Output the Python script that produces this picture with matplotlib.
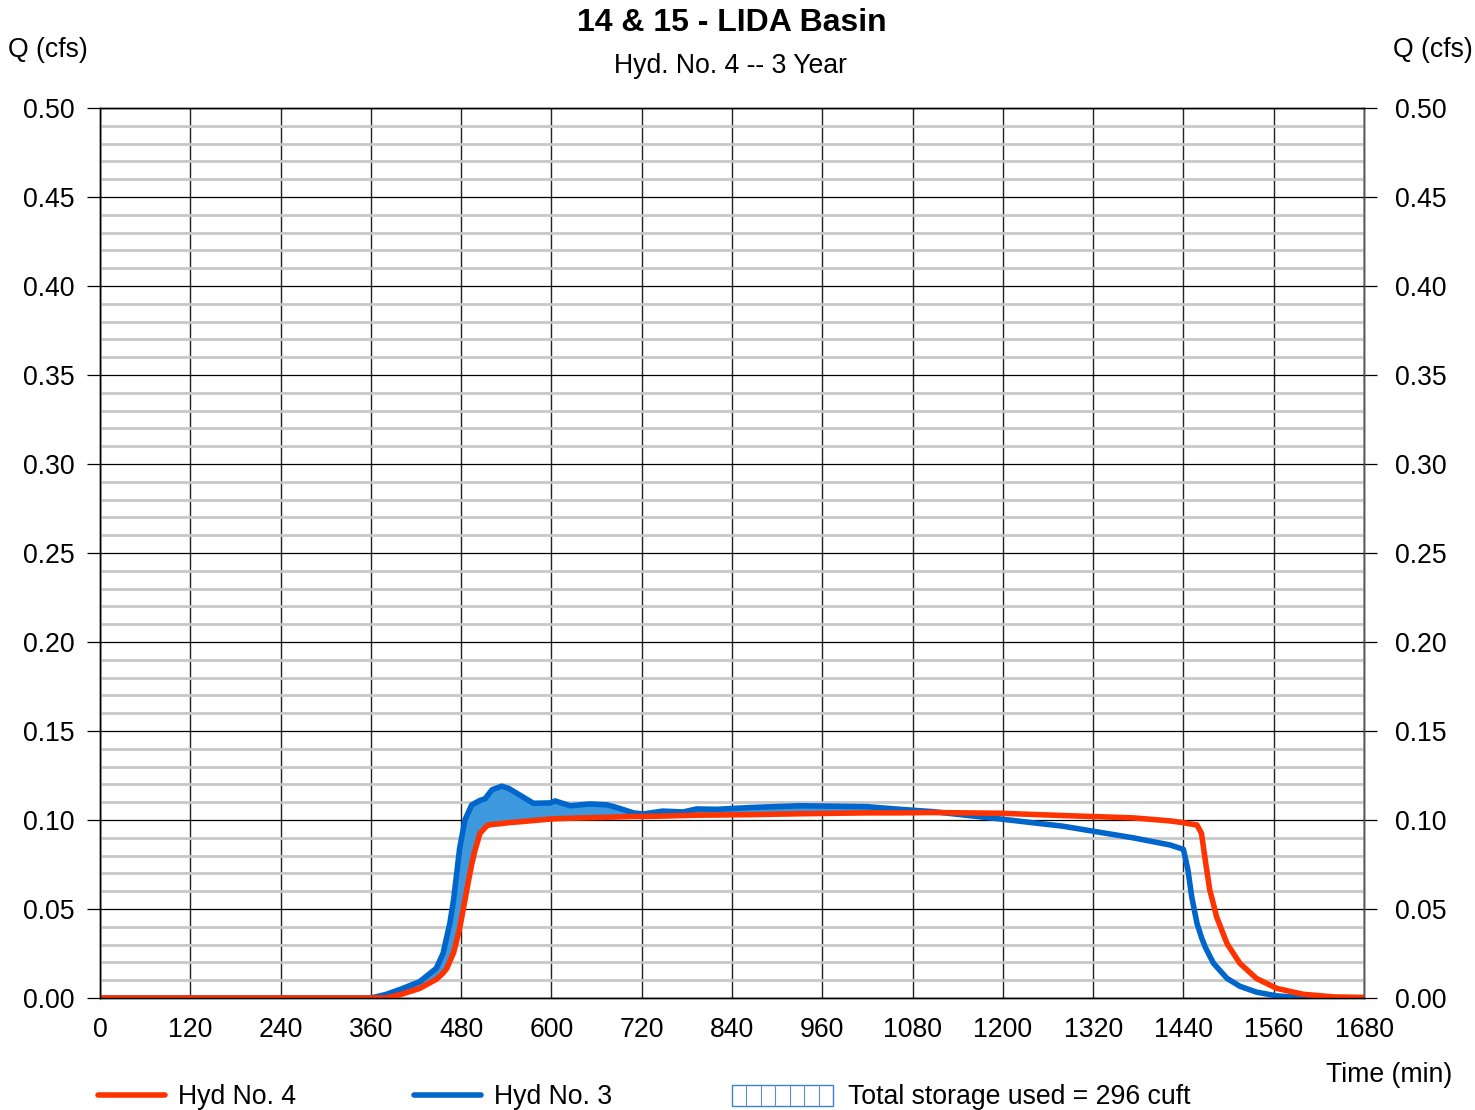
import matplotlib
matplotlib.use("Agg")
import matplotlib.pyplot as plt
from matplotlib.lines import Line2D
from matplotlib.patches import Rectangle
from matplotlib.ticker import MultipleLocator
import numpy as np

plt.rcParams['font.family'] = ['Liberation Sans', 'DejaVu Sans']

# Hydrograph ordinates (time in minutes, flow in cfs)
time_min = [0, 360, 380, 400, 425, 447, 456, 461, 465, 470, 478, 485, 490, 494,
            498, 505, 512, 515, 521, 534, 543, 558, 576, 598, 605, 625, 651, 674,
            687, 709, 722, 748, 775, 793, 820, 864, 930, 1019, 1063, 1107, 1196,
            1280, 1373, 1422, 1440, 1446, 1451, 1458, 1464, 1469, 1475, 1480,
            1484, 1498, 1515, 1537, 1564, 1599, 1640, 1680]

hyd3_q = [0, 0, 0.002, 0.005, 0.0092, 0.0167, 0.0251, 0.0345, 0.042, 0.0554,
          0.084, 0.100, 0.1047, 0.1084, 0.1094, 0.111, 0.112, 0.1137, 0.117,
          0.119, 0.1178, 0.114, 0.1094, 0.1096, 0.1107, 0.108, 0.109, 0.1085,
          0.107, 0.104, 0.1034, 0.105, 0.1045, 0.1062, 0.106, 0.107, 0.108,
          0.1075, 0.106, 0.1047, 0.1006, 0.0965, 0.090, 0.086, 0.0835, 0.0719,
          0.0569, 0.042, 0.034, 0.0286, 0.0236, 0.0195, 0.0176, 0.011, 0.0066,
          0.0033, 0.0012, 0.0001, 0, 0]

hyd4_q = [0, 0, 0, 0.002, 0.0054, 0.0105, 0.014, 0.0167, 0.0206, 0.0255, 0.039,
          0.055, 0.0663, 0.075, 0.0823, 0.0925, 0.0958, 0.097, 0.0975, 0.098,
          0.0985, 0.099, 0.0997, 0.1005, 0.1007, 0.101, 0.1013, 0.1015, 0.1017,
          0.102, 0.102, 0.1022, 0.1025, 0.1027, 0.1028, 0.103, 0.1035, 0.104,
          0.104, 0.1042, 0.1038, 0.1025, 0.1012, 0.0995, 0.0985, 0.098, 0.0977,
          0.0972, 0.0925, 0.0775, 0.0607, 0.0526, 0.0457, 0.0305, 0.0195, 0.011,
          0.0054, 0.0021, 0.0006, 0.0003]

x_ticks = [0, 120, 240, 360, 480, 600, 720, 840, 960, 1080, 1200, 1320, 1440, 1560, 1680]
storage_cuft = 296

RED = '#ff3300'
BLUE = '#0066cc'
FILL = '#3d98de'
FS = 19.2

fig = plt.figure(figsize=(14.75, 11.10), dpi=100)
ax = fig.add_axes([100 / 1475, 1 - 998 / 1110, 1264 / 1475, 890 / 1110])

t = np.array(time_min, dtype=float)
q3 = np.array(hyd3_q)
q4 = np.array(hyd4_q)

ax.fill_between(t, q4, q3, where=q3 > q4, interpolate=True, color=FILL, lw=0, zorder=3)
ax.plot(t, q3, color=BLUE, lw=4.0, solid_joinstyle='round', solid_capstyle='round', zorder=4)
ax.plot(t, q4, color=RED, lw=4.0, solid_joinstyle='round', solid_capstyle='round', zorder=5)

ax.set_xlim(0, 1680)
ax.set_ylim(0, 0.5)
ax.set_xticks(x_ticks)
ax.yaxis.set_major_locator(MultipleLocator(0.05))
ax.yaxis.set_minor_locator(MultipleLocator(0.01))
fmt = plt.FuncFormatter(lambda v, p: f"{v:.2f}")
ax.yaxis.set_major_formatter(fmt)

ax.grid(which='minor', axis='y', color='#c8c8c8', lw=2.0, zorder=0)
ax.grid(which='major', axis='y', color='black', lw=0.9, zorder=1)
ax.grid(which='major', axis='x', color='#222222', lw=1.0, zorder=1)
ax.set_axisbelow(True)

ax.tick_params(axis='y', which='major', direction='out', length=9.5, width=0.9,
               labelsize=FS, pad=9)
ax.tick_params(axis='y', which='minor', length=0)
ax.tick_params(axis='x', which='major', length=0, labelsize=FS, pad=14)

# Right-hand flow scale
axr = ax.twinx()
axr.set_ylim(ax.get_ylim())
axr.yaxis.set_major_locator(MultipleLocator(0.05))
axr.yaxis.set_major_formatter(fmt)
axr.tick_params(axis='y', which='major', direction='out', length=9.5, width=0.9,
                labelsize=FS, pad=12.5)

for a in (ax, axr):
    for side in ['left', 'right', 'top', 'bottom']:
        a.spines[side].set_color('black')
        a.spines[side].set_linewidth(1.0)
axr.spines['right'].set_color('#555555')

# Titles and axis captions
fig.text(732 / 1475, 1 - 23 / 1110, "14 & 15 - LIDA Basin", ha='center', va='center',
         fontsize=23, fontweight='bold')
fig.text(731 / 1475, 1 - 66 / 1110, "Hyd. No. 4 -- 3 Year", ha='center', va='center', fontsize=FS)
fig.text(8 / 1475, 1 - 50 / 1110, "Q (cfs)", ha='left', va='center', fontsize=FS)
fig.text(1473 / 1475, 1 - 50 / 1110, "Q (cfs)", ha='right', va='center', fontsize=FS)
fig.text(1452 / 1475, 1 - 1075 / 1110, "Time (min)", ha='right', va='center', fontsize=FS)

# Legend row along the bottom
ly = 1 - 1095 / 1110
lyt = 1 - 1097 / 1110
fig.add_artist(Line2D([98 / 1475, 165 / 1475], [ly, ly], color=RED, lw=4.0,
                      solid_capstyle='round', transform=fig.transFigure))
fig.text(178 / 1475, lyt, "Hyd No. 4", ha='left', va='center', fontsize=FS)
fig.add_artist(Line2D([414 / 1475, 481 / 1475], [ly, ly], color=BLUE, lw=4.0,
                      solid_capstyle='round', transform=fig.transFigure))
fig.text(494 / 1475, lyt, "Hyd No. 3", ha='left', va='center', fontsize=FS)

bx0, bx1 = 732, 833
by0, by1 = 1085, 1106
fig.add_artist(Rectangle((bx0 / 1475, 1 - by1 / 1110), (bx1 - bx0) / 1475, (by1 - by0) / 1110,
                         facecolor='white', edgecolor='#3d7fd0', lw=1.0, transform=fig.transFigure))
for xv in np.linspace(bx0, bx1, 8)[1:-1]:
    fig.add_artist(Line2D([xv / 1475, xv / 1475], [1 - by1 / 1110, 1 - by0 / 1110],
                          color='#5a8fd6', lw=0.8, transform=fig.transFigure))
fig.text(848 / 1475, lyt, f"Total storage used = {storage_cuft} cuft", ha='left', va='center', fontsize=FS)

fig.savefig("out.png", dpi=100)
